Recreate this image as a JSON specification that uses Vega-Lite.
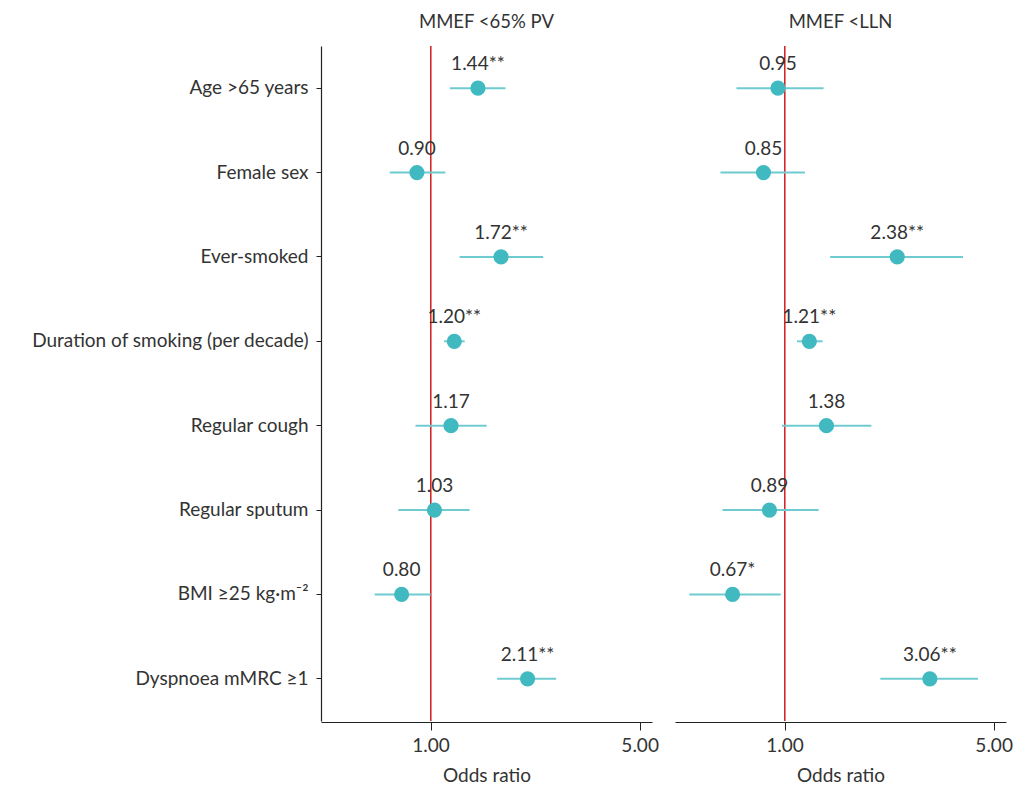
{
  "$schema": "https://vega.github.io/schema/vega-lite/v6.json",
  "padding": {"left": 30, "top": 12, "right": 5, "bottom": 5},
  "config": {
    "font": "Lato",
    "view": {"stroke": null},
    "axis": {"labelColor": "#333", "titleColor": "#333", "domainColor": "#222", "tickColor": "#222", "grid": false},
    "header": {"labelFont": "Lato"}
  },
  "data": {
    "values": [
      {"outcome": "MMEF <65% PV", "variable": "Age >65 years", "or": 1.44, "lo": 1.16, "hi": 1.78, "label": "1.44**"},
      {"outcome": "MMEF <65% PV", "variable": "Female sex", "or": 0.90, "lo": 0.73, "hi": 1.12, "label": "0.90"},
      {"outcome": "MMEF <65% PV", "variable": "Ever-smoked", "or": 1.72, "lo": 1.25, "hi": 2.38, "label": "1.72**"},
      {"outcome": "MMEF <65% PV", "variable": "Duration of smoking (per decade)", "or": 1.20, "lo": 1.11, "hi": 1.30, "label": "1.20**"},
      {"outcome": "MMEF <65% PV", "variable": "Regular cough", "or": 1.17, "lo": 0.89, "hi": 1.54, "label": "1.17"},
      {"outcome": "MMEF <65% PV", "variable": "Regular sputum", "or": 1.03, "lo": 0.78, "hi": 1.35, "label": "1.03"},
      {"outcome": "MMEF <65% PV", "variable": "BMI ≥25 kg·m⁻²", "or": 0.80, "lo": 0.65, "hi": 1.00, "label": "0.80"},
      {"outcome": "MMEF <65% PV", "variable": "Dyspnoea mMRC ≥1", "or": 2.11, "lo": 1.67, "hi": 2.63, "label": "2.11**"},
      {"outcome": "MMEF <LLN", "variable": "Age >65 years", "or": 0.95, "lo": 0.69, "hi": 1.35, "label": "0.95"},
      {"outcome": "MMEF <LLN", "variable": "Female sex", "or": 0.85, "lo": 0.61, "hi": 1.17, "label": "0.85"},
      {"outcome": "MMEF <LLN", "variable": "Ever-smoked", "or": 2.38, "lo": 1.42, "hi": 3.95, "label": "2.38**"},
      {"outcome": "MMEF <LLN", "variable": "Duration of smoking (per decade)", "or": 1.21, "lo": 1.10, "hi": 1.34, "label": "1.21**"},
      {"outcome": "MMEF <LLN", "variable": "Regular cough", "or": 1.38, "lo": 0.98, "hi": 1.95, "label": "1.38"},
      {"outcome": "MMEF <LLN", "variable": "Regular sputum", "or": 0.89, "lo": 0.62, "hi": 1.30, "label": "0.89"},
      {"outcome": "MMEF <LLN", "variable": "BMI ≥25 kg·m⁻²", "or": 0.67, "lo": 0.48, "hi": 0.97, "label": "0.67*"},
      {"outcome": "MMEF <LLN", "variable": "Dyspnoea mMRC ≥1", "or": 3.06, "lo": 2.09, "hi": 4.43, "label": "3.06**"}
    ]
  },
  "facet": {
    "column": {
      "field": "outcome", "type": "nominal", "sort": ["MMEF <65% PV", "MMEF <LLN"],
      "header": {"title": null, "labelFontSize": 18.5, "labelColor": "#333", "labelPadding": 14}
    }
  },
  "spacing": 23,
  "spec": {
    "width": 331,
    "height": 675,
    "encoding": {
      "y": {
        "field": "variable", "type": "nominal",
        "sort": ["Age >65 years", "Female sex", "Ever-smoked", "Duration of smoking (per decade)", "Regular cough", "Regular sputum", "BMI ≥25 kg·m⁻²", "Dyspnoea mMRC ≥1"],
        "scale": {"paddingInner": 0, "paddingOuter": 0},
        "axis": {"title": null, "labelFontSize": 19, "labelLimit": 400, "tickSize": 5, "labelPadding": 8, "domainWidth": 1.2}
      }
    },
    "layer": [
      {
        "mark": {"type": "rule", "color": "#d62728", "strokeWidth": 1},
        "encoding": {"x": {"datum": 1, "type": "quantitative", "scale": {"type": "log", "domain": [0.43, 5.5], "nice": false}}, "y": null}
      },
      {
        "mark": {"type": "rule", "color": "#6fcbd0", "strokeWidth": 2},
        "encoding": {
          "x": {"field": "lo", "type": "quantitative", "scale": {"type": "log", "domain": [0.43, 5.5], "nice": false},
            "axis": {"values": [1, 5], "format": ".2f", "title": "Odds ratio", "titleFontSize": 19, "titleFontWeight": "normal", "labelFontSize": 19, "tickSize": 8, "labelPadding": 6, "titlePadding": 11, "domainWidth": 1.2}},
          "x2": {"field": "hi"}
        }
      },
      {
        "mark": {"type": "circle", "color": "#41b9c1", "opacity": 1, "size": 230},
        "encoding": {"x": {"field": "or", "type": "quantitative"}}
      },
      {
        "mark": {"type": "text", "fontSize": 19, "color": "#333", "dy": -24, "baseline": "middle"},
        "encoding": {"x": {"field": "or", "type": "quantitative"}, "text": {"field": "label"}}
      }
    ]
  }
}
